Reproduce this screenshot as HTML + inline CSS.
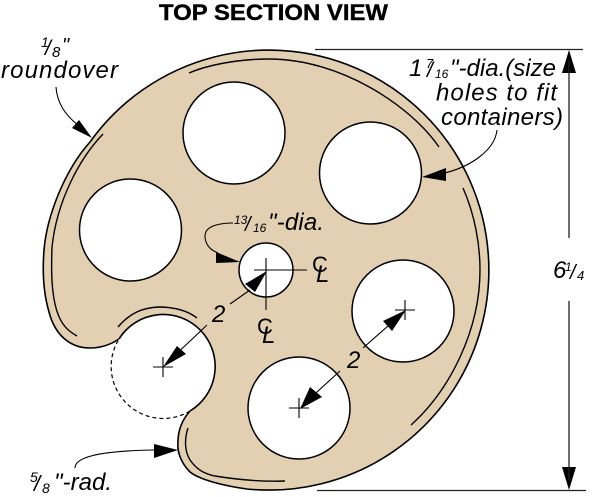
<!DOCTYPE html>
<html><head><meta charset="utf-8"><style>
html,body{margin:0;padding:0;background:#fff}
svg{display:block}
text{font-family:"Liberation Sans",sans-serif;font-style:italic;fill:#000}
</style></head><body>
<svg width="600" height="497" viewBox="0 0 600 497" xmlns="http://www.w3.org/2000/svg">
<path d="M119 339 C110 345 100 348 90 348 C70 348 55 335 49 312 C44 295 42 275 44 250 C47 215 65 170 90 142 A220 220 0 1 1 247 489 C225 486 200 480 190 472 C180 462 177 450 178 442 C178 430 182 420 190 411 A52 52 0 1 0 119 339 Z" fill="#e3d0b2" stroke="#000" stroke-width="1.6"/>
<path d="M190 411 A52 52 0 0 1 119 339" fill="#fff" stroke="#000" stroke-width="1.2" stroke-dasharray="4 3"/>
<g fill="#fff" stroke="#000" stroke-width="1.5">
<circle cx="234" cy="133" r="51"/>
<circle cx="130.500" cy="230" r="51"/>
<circle cx="370.500" cy="173" r="51"/>
<circle cx="403" cy="311" r="51"/>
<circle cx="299" cy="408" r="51"/>
<circle cx="266" cy="270" r="27"/>
</g>
<g fill="none" stroke="#000" stroke-width="1.4">
<path d="M189 73 C205 66 235 59 269 59 C340 59 410 105 439 147"/>
<path d="M463 188 C475 215 480 245 480 270 C480 330 450 390 411 425"/>
<path d="M103 134 C80 158 57 200 52 247 C51 275 52 290 55 304 C59 322 66 330 77 336"/>
<path d="M118 327 C130 313 142 308 158 307 C175 307 188 311 197 318"/>
<path d="M188 428 C184 440 185 452 190 460 C197 470 205 474 215 476 C240 480 262 482 285 481"/>
</g>
<g fill="none" stroke="#000" stroke-width="1.1">
<path d="M56 87 C57 102 65 115 78 125"/>
<path d="M497 130 C495 150 470 168 440 174"/>
<path d="M233 223 C222 223 205 225 205 236 C205 244 210 250 218 253"/>
<path d="M75 468 C75 458 95 451 154 450"/>
<path d="M254 270 H307 M266 258 V310"/>
<path d="M153 367 H173 M163 357 V377"/>
<path d="M395 310 H415 M405 300 V320"/>
<path d="M289 408 H309 M299 398 V418"/>
<path d="M250 290 L230 304 M207 325 L170 360"/>
<path d="M388 326 L363 348 M340 371 L306 402"/>
</g>
<g fill="#000">
<path d="M79 120 L72 128 L92 138 Z"/>
<path d="M422 177 L446 168 L446 181 Z"/>
<path d="M216 252 L216 263 L240 262 Z"/>
<path d="M154 444 L154 458 L178 450 Z"/>
<path d="M267 271 L245 284 L255 292 Z"/>
<path d="M163 367 L177 346 L186 354 Z"/>
<path d="M406 310 L383 321 L392 331 Z"/>
<path d="M300 409 L310 387 L322 397 Z"/>
<path d="M569 50 L562 73 L576 73 Z"/>
<path d="M569 490 L562 467 L576 467 Z"/>
</g>
<g stroke="#222" fill="none">
<path d="M315 49.500 H583 M317 490.500 H586" stroke-width="1.3"/>
<path d="M569 60 V238 M569 301 V480" stroke-width="1.3"/>
</g>
<text x="159" y="20" textLength="229" lengthAdjust="spacingAndGlyphs" style="font-style:normal;font-weight:bold;font-size:22px;stroke:#000;stroke-width:.4">TOP SECTION VIEW</text>
<text x="41" y="47" style="font-size:14px">1</text><text x="45" y="55" style="font-size:21px">/</text><text x="52" y="57" style="font-size:15px">8</text><text x="62" y="52" style="font-size:20px">"</text>
<text x="1" y="78" textLength="117" style="font-size:24px">roundover</text>
<text x="409" y="76" style="font-size:24px">1</text><text x="426" y="68" style="font-size:13px">7</text><text x="427" y="77" style="font-size:21px">/</text><text x="435" y="78" style="font-size:12px">16</text><text x="450" y="76" textLength="106" style="font-size:24px">"-dia.(size</text>
<text x="436" y="100.500" textLength="121" style="font-size:24px">holes to fit</text>
<text x="441" y="125" textLength="122" style="font-size:24px">containers)</text>
<text x="234" y="224" style="font-size:12px">13</text><text x="245" y="231" style="font-size:20px">/</text><text x="253" y="232" style="font-size:12px">16</text><text x="268" y="230" textLength="56" style="font-size:24px">"-dia.</text>
<text x="212" y="322" style="font-size:24px">2</text>
<text x="347" y="368" style="font-size:24px">2</text>
<text x="553" y="278" style="font-size:24px">6</text><text x="565" y="271" style="font-size:12px">1</text><text x="570" y="279" style="font-size:20px">/</text><text x="577" y="280" style="font-size:13px">4</text>
<text x="30" y="482" style="font-size:14px">5</text><text x="34" y="491" style="font-size:22px">/</text><text x="42" y="493" style="font-size:14px">8</text><text x="54" y="490" textLength="58" style="font-size:24px">"-rad.</text>
<text x="257" y="334" style="font-size:22px;font-style:normal">C</text><text x="262" y="343" style="font-size:24px">L</text>
<text x="312" y="272" style="font-size:22px;font-style:normal">C</text><text x="316" y="282" style="font-size:24px">L</text>
</svg>
</body></html>
